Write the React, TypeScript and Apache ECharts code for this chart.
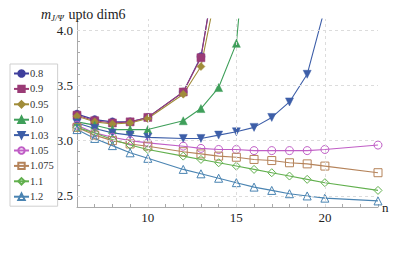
import React, { useEffect, useRef } from "react";
import * as echarts from "echarts";

const labels = ["0.8", "0.9", "0.95", "1.0", "1.03", "1.05", "1.075", "1.1", "1.2"];
const colors = ["#3f3f9c", "#9a3b76", "#a08c3a", "#3f9f5a", "#3d5ea8", "#c05ec6", "#b5835a", "#62b04e", "#4a84b2"];
const symbols = ["circle", "rect", "diamond", "triangle", "triangle", "circle", "rect", "diamond", "triangle"];
const hollow = [false, false, false, false, false, true, true, true, true];
const rotates = [0, 0, 0, 0, 180, 0, 0, 0, 0];

const nShort = [6, 7, 8, 9, 10, 12, 13, 14];
const n10 = [6, 7, 8, 9, 10, 12, 13, 14, 15, 16];
const n103 = [6, 7, 8, 9, 10, 12, 13, 14, 15, 16, 17, 18, 19, 20];
const nLong = [6, 7, 8, 9, 10, 12, 13, 14, 15, 16, 17, 18, 19, 20, 23];

const v08 = [3.24, 3.19, 3.17, 3.17, 3.21, 3.44, 3.76, 4.7];
const v09 = [3.23, 3.18, 3.16, 3.17, 3.21, 3.44, 3.75, 4.69];
const v095 = [3.22, 3.17, 3.15, 3.16, 3.2, 3.42, 3.67, 4.46];
const v10 = [3.17, 3.14, 3.1, 3.1, 3.1, 3.18, 3.29, 3.48, 3.88, 5.6];
const v103 = [3.16, 3.11, 3.07, 3.05, 3.03, 3.02, 3.02, 3.05, 3.08, 3.12, 3.21, 3.35, 3.6, 4.2];
const v105 = [3.14, 3.07, 3.03, 3.0, 2.98, 2.95, 2.93, 2.92, 2.92, 2.91, 2.91, 2.91, 2.91, 2.92, 2.96];
const v1075 = [3.12, 3.05, 3.0, 2.97, 2.95, 2.9, 2.88, 2.86, 2.85, 2.83, 2.82, 2.8, 2.79, 2.77, 2.71];
const v11 = [3.12, 3.07, 3.01, 2.96, 2.92, 2.86, 2.83, 2.8, 2.77, 2.74, 2.71, 2.68, 2.65, 2.62, 2.55];
const v12 = [3.1, 3.02, 2.955, 2.89, 2.84, 2.74, 2.7, 2.66, 2.62, 2.58, 2.55, 2.52, 2.5, 2.48, 2.455];

const xs = [nShort, nShort, nShort, n10, n103, nLong, nLong, nLong, nLong];
const ys = [v08, v09, v095, v10, v103, v105, v1075, v11, v12];

const gridX = [10, 15, 20];
const gridY = [2.5, 3.0, 3.5, 4.0];
const xLabels = [10, 15, 20];
const yLabels = [2.5, 3.0, 3.5, 4.0];

const FONT = "Times New Roman, Liberation Serif, DejaVu Serif, serif";

export default function App() {
  const ref = useRef<HTMLDivElement>(null);
  useEffect(() => {
    if (!ref.current) return;
    const chart = echarts.init(ref.current, null, { renderer: "svg" });
    const series: any[] = labels.map((name, i) => {
      const empty = hollow[i];
      return {
        name,
        type: "line",
        data: xs[i].map((n, k) => [n, ys[i][k]]),
        symbol: symbols[i],
        symbolRotate: rotates[i],
        symbolSize: empty ? 8 : 8,
        showAllSymbol: true,
        lineStyle: { width: 1.1, color: colors[i] },
        itemStyle: empty
          ? { color: "rgba(255,255,255,0.02)", borderColor: colors[i], borderWidth: 1 }
          : { color: colors[i], borderColor: colors[i], borderWidth: 0.5 },
        z: 3,
      };
    });
    series.push({
      type: "line",
      data: [],
      z: 1,
      silent: true,
      markLine: {
        silent: true,
        symbol: "none",
        label: { show: false },
        lineStyle: { type: [3, 3], color: "#dcdcdc", width: 1 },
        data: [
          ...gridX.map((x) => ({ xAxis: x })),
          ...gridY.map((y) => ({ yAxis: y })),
        ],
      },
    });
    chart.setOption({
      animation: false,
      textStyle: { fontFamily: FONT },
      title: {
        left: 36,
        top: 0,
        text: "{m|m}{s|J/Ψ} {t|upto dim6}",
        textStyle: {
          fontWeight: "normal",
          fontFamily: FONT,
          rich: {
            m: { fontFamily: FONT, fontStyle: "italic", fontWeight: "normal", fontSize: 14, color: "#222" },
            s: { fontFamily: FONT, fontStyle: "italic", fontWeight: "normal", fontSize: 9, color: "#222", padding: [7, 0, 0, 0] },
            t: { fontFamily: FONT, fontWeight: "normal", fontSize: 14, color: "#222" },
          },
        },
      },
      legend: {
        orient: "vertical",
        left: 10,
        top: 64,
        data: labels,
        borderColor: "#cfcfcf",
        borderWidth: 1,
        padding: [4, 4, 4, 3],
        itemWidth: 15,
        itemHeight: 8,
        itemGap: 4.4,
        textStyle: { fontFamily: FONT, fontSize: 10.5, color: "#333", lineHeight: 8, padding: [0, 0, 0, -4] },
      },
      grid: { left: 77, right: 21, top: 19, bottom: 54 },
      xAxis: {
        type: "value",
        min: 6,
        max: 23,
        interval: 1,
        name: "n",
        nameLocation: "end",
        nameGap: 4,
        nameTextStyle: { fontFamily: FONT, fontSize: 13, color: "#222", verticalAlign: "middle" },
        axisLine: { lineStyle: { color: "#aaa" } },
        axisTick: { inside: true, length: 3, lineStyle: { color: "#aaa" } },
        splitLine: { show: false },
        axisLabel: {
          fontFamily: FONT,
          fontSize: 13,
          color: "#222",
          margin: 4,
          formatter: (v: number) => (xLabels.includes(Math.round(v)) && Math.abs(v - Math.round(v)) < 1e-6 ? String(Math.round(v)) : ""),
        },
      },
      yAxis: {
        type: "value",
        min: 2.4,
        max: 4.1,
        interval: 0.1,
        axisLine: { show: true, lineStyle: { color: "#aaa" } },
        axisTick: { show: true, inside: true, length: 3, lineStyle: { color: "#aaa" } },
        splitLine: { show: false },
        axisLabel: {
          fontFamily: FONT,
          fontSize: 13,
          color: "#222",
          margin: 4,
          formatter: (v: number) => {
            const hit = yLabels.find((y) => Math.abs(y - v) < 1e-6);
            return hit !== undefined ? hit.toFixed(1) : "";
          },
        },
      },
      series,
    });
    return () => chart.dispose();
  }, []);
  return <div ref={ref} style={{ width: 399, height: 261, position: "absolute", left: 0, top: 0 }} />;
}
